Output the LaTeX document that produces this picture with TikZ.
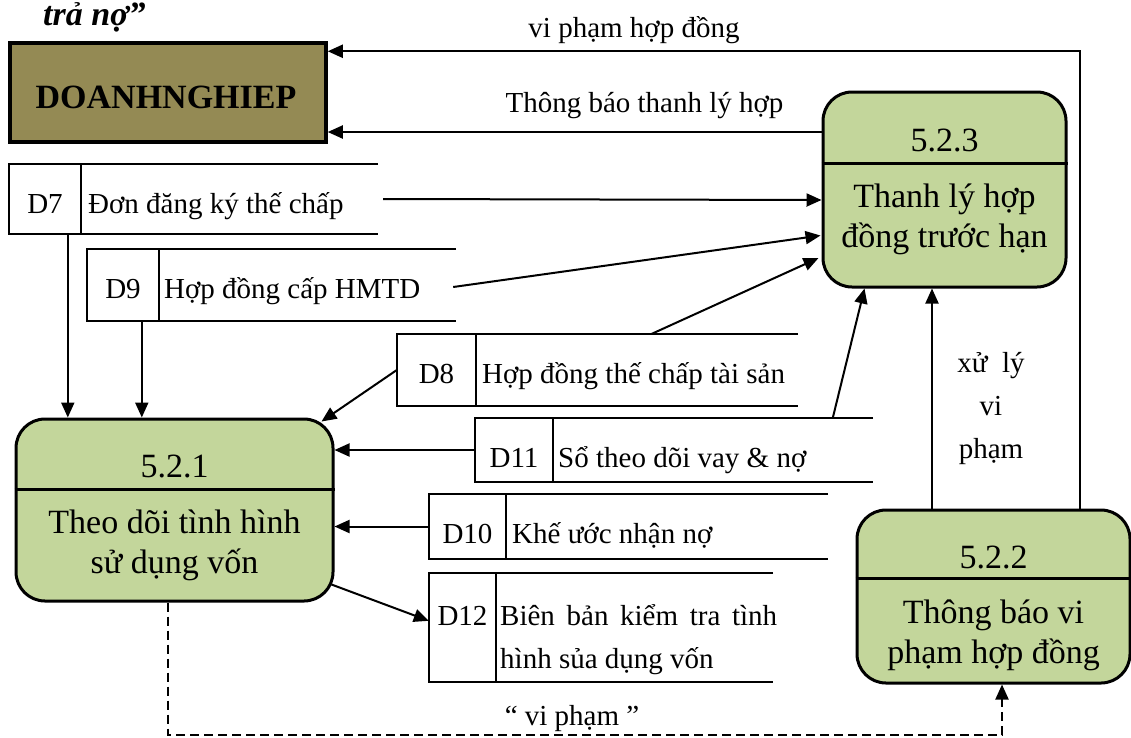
\documentclass[tikz,border=0pt]{standalone}
\usepackage{fontspec}
\setmainfont{Liberation Serif}
\usetikzlibrary{arrows.meta,calc}
\definecolor{procfill}{HTML}{C3D69B}
\definecolor{entfill}{HTML}{948A54}

\begin{document}
\begin{tikzpicture}[x=1pt,y=-1pt,
  proc/.style={draw, line width=3pt, rounded corners=29pt, fill=procfill, inner sep=0pt},
  entity/.style={draw, line width=3.5pt, fill=entfill, inner sep=0pt},
  storebox/.style={inner sep=0pt},
  flow/.style={line width=2pt, -{Triangle[length=15pt,width=13pt]}},
  dflow/.style={flow, dash pattern=on 9pt off 5pt},
  sline/.style={line width=2pt},
  lbl/.style={font=\fontsize{29}{36}\selectfont, inner sep=0pt},
  big/.style={font=\fontsize{34}{40}\selectfont, inner sep=0pt},
]
\useasboundingbox (0,0) rectangle (1131,737);

% title fragment
\node[font=\fontsize{34}{40}\selectfont\bfseries\itshape, inner sep=0pt, anchor=base west] (title) at (43,25) {trả nợ”};

% external entity
\node[entity, minimum width=316pt, minimum height=99pt] (dn) at (168,92.5) {};
\node[big, font=\fontsize{34}{40}\selectfont\bfseries, anchor=base] (dntxt) at (166,108) {DOANHNGHIEP};

% processes
\node[proc, minimum width=243pt, minimum height=195pt] (p523) at (944.5,189.5) {};
\draw[line width=3pt] (p523.west |- 0,163) -- (p523.east |- 0,163);
\node[big, anchor=base] (p523n) at (944.5,151) {5.2.3};
\node[big, anchor=base] (p523a) at (944.5,207) {Thanh lý hợp};
\node[big, anchor=base] (p523b) at (944.5,247) {đồng trước hạn};

\node[proc, minimum width=317pt, minimum height=182pt] (p521) at (174.5,510) {};
\draw[line width=3pt] (p521.west |- 0,489) -- (p521.east |- 0,489);
\node[big, anchor=base] (p521n) at (174.5,477) {5.2.1};
\node[big, anchor=base] (p521a) at (174.5,533) {Theo dõi tình hình};
\node[big, anchor=base] (p521b) at (174.5,573) {sử dụng vốn};

\node[proc, minimum width=273pt, minimum height=173pt] (p522) at (993.5,596.5) {};
\draw[line width=3pt] (p522.west |- 0,578) -- (p522.east |- 0,578);
\node[big, anchor=base] (p522n) at (993.5,568) {5.2.2};
\node[big, anchor=base] (p522a) at (993.5,623) {Thông báo vi};
\node[big, anchor=base] (p522b) at (993.5,663) {phạm hợp đồng};

% data stores (open on the right)
\newcommand{\storeshape}[2]{%
  \draw[sline] (#1.north east) -- (#1.north west) -- (#1.south west) -- (#1.south east);
  \draw[sline] ($(#1.north west)+(#2,0)$) -- ($(#1.south west)+(#2,0)$);}

\node[storebox, minimum width=369pt, minimum height=70pt] (d7) at (193.5,199) {};
\storeshape{d7}{72}
\node[lbl, anchor=base] (d7id) at (45,213) {D7};
\node[lbl, anchor=base west] (d7t) at (88,213) {Đơn đăng ký thế chấp};

\node[storebox, minimum width=369pt, minimum height=72pt] (d9) at (271.5,285) {};
\storeshape{d9}{72}
\node[lbl, anchor=base] (d9id) at (123,298) {D9};
\node[lbl, anchor=base west] (d9t) at (164,298) {Hợp đồng cấp HMTD};

\node[storebox, minimum width=401pt, minimum height=72pt] (d8) at (597.5,370) {};
\storeshape{d8}{79}
\node[lbl, anchor=base] (d8id) at (436.5,383) {D8};
\node[lbl, anchor=base west] (d8t) at (482,383) {Hợp đồng thế chấp tài sản};

\node[storebox, minimum width=398pt, minimum height=64pt] (d11) at (674,450) {};
\storeshape{d11}{78}
\node[lbl, anchor=base] (d11id) at (514,467) {D11};
\node[lbl, anchor=base west] (d11t) at (558,467) {Sổ theo dõi vay \& nợ};

\node[storebox, minimum width=399pt, minimum height=65pt] (d10) at (628.5,526.5) {};
\storeshape{d10}{77}
\node[lbl, anchor=base] (d10id) at (467.5,543) {D10};
\node[lbl, anchor=base west] (d10t) at (512,543) {Khế ước nhận nợ};

\node[storebox, minimum width=344pt, minimum height=109pt] (d12) at (601,627.5) {};
\storeshape{d12}{67}
\node[lbl, anchor=base] (d12id) at (462.5,625) {D12};
\node[lbl, anchor=base west] (d12a) at (500,625) {\makebox[277pt][s]{Biên bản kiểm tra tình}};
\node[lbl, anchor=base west] (d12b) at (500,668) {hình sủa dụng vốn};

% flows into 5.2.3
\draw[flow] ($(d7.east)+(5,0)$) -- ($(p523.west)+(0,10.5)$);
\draw[flow] ($(d9.east)+(-3,2)$) -- ($(p523.west)+(-1,46)$);
\draw[flow] ($(d8.north west)+(255,0)$) -- ($(p523.west)+(-3,68.5)$);
\draw[flow] ($(d11.north west)+(358,0)$) -- ($(p523.south)+(-80,0)$);
\coordinate (v1) at ($(p522.north)+(-61.5,0)$);
\draw[flow] (v1) -- (v1 |- p523.south);
\node[lbl, anchor=base] (xl1) at (991,372) {xử\ \ lý};
\node[lbl, anchor=base] (xl2) at (991,415) {vi};
\node[lbl, anchor=base] (xl3) at (991,458) {phạm};

% flows to the enterprise
\coordinate (v2) at ($(p522.north)+(86.5,0)$);
\draw[flow] (v2) |- ($(dn.north east)+(0,10)$);
\node[lbl, anchor=base] (l1) at (634,37) {vi phạm hợp đồng};
\coordinate (h1) at ($(p523.west)+(0,-57.5)$);
\draw[flow] (h1) -- (h1 -| dn.east);
\node[lbl, anchor=base] (l2) at (644.5,112) {Thông báo thanh lý hợp};

% flows into 5.2.1
\coordinate (v3) at ($(d7.south west)+(59,0)$);
\draw[flow] (v3) -- (v3 |- p521.north);
\coordinate (v4) at ($(d9.south west)+(55,0)$);
\draw[flow] (v4) -- (v4 |- p521.north);
\draw[flow] (d8.west) -- ($(p521.north east)+(-13,4)$);
\draw[flow] (d11.west) -- (d11.west -| p521.east);
\draw[flow] (d10.west) -- (d10.west -| p521.east);

% 5.2.1 to D12
\draw[flow] ($(p521.south east)+(-3,-18)$) -- ($(d12.north west)+(0,48)$);

% dashed flow 5.2.1 -> 5.2.2
\coordinate (v5) at ($(p522.south)+(8.5,0)$);
\draw[dflow] ($(p521.south)+(-6.5,0)$) -- ++(0,132) -| (v5);
\node[lbl, anchor=base] (l3) at (572,725) {“ vi phạm ”};
\end{tikzpicture}
\end{document}
